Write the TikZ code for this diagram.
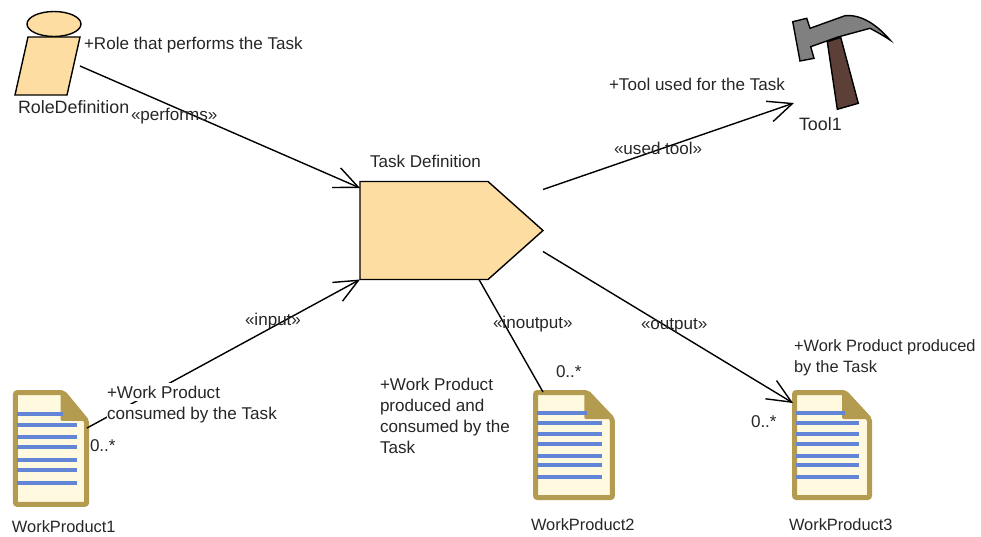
\documentclass[tikz,border=0pt]{standalone}
\usepackage{fontspec}
\setmainfont{Liberation Sans}
\usetikzlibrary{positioning,shapes.symbols,arrows.meta,calc}

\definecolor{taskfill}{HTML}{FEDDA2}
\definecolor{docgold}{HTML}{B39B50}
\definecolor{docpaper}{HTML}{FFF9E0}
\definecolor{docblue}{HTML}{6285D8}
\definecolor{hammerhead}{HTML}{808080}
\definecolor{hammerhandle}{HTML}{5C4038}

\tikzset{
    txt/.style={inner sep=0pt, outer sep=0pt, anchor=west, align=left, font=\fontsize{12.8}{15.8}\selectfont, text=black!85},
    nametxt/.style={txt, font=\fontsize{12.3}{15.8}\selectfont},
    widetxt/.style={txt, font=\fontsize{13.4}{15.8}\selectfont},
    cover/.style={txt, fill=white, text height=12pt, text depth=1.5pt},
    box/.style={inner sep=0pt, outer sep=0pt},
    assoc/.style={line width=1.05pt, -{Straight Barb[length=18pt,width=16pt,line width=1.05pt]}},
    plain/.style={line width=1.05pt},
    docpic/.pic={
        \draw[docgold, fill=docpaper, line width=3.75pt, rounded corners=1.5pt] (2.5,2.5) -- (53,2.5) -- (77.5,29) -- (77.5,107.5) -- (2.5,107.5) -- cycle;
        \fill[docgold, rounded corners=1pt] (50,3) -- (53,3) -- (78,29) -- (50,29) -- cycle;
        \draw[docblue, line width=3pt] (4,23) -- (53,23);
        \foreach \y in {33,44,54,66,75,87} {
            \draw[docblue, line width=3pt] (4,\y) -- (67,\y);
        }
    }
}

% name, left, top, width, height
\newcommand{\workproduct}[5]{%
    \node[box, minimum width=#4*0.75pt, minimum height=#5*0.75pt, anchor=north west] (#1) at (#2,#3) {};
    \pic[xscale=#4/80, yscale=#5/110] at (#2,#3) {docpic};
}

\begin{document}
\begin{tikzpicture}[x=0.75pt, y=-0.75pt]
        \useasboundingbox (0,0) rectangle (981,536);

        %-----Entities-----

        % Role Entity
        \node[box, minimum width=48.75pt, minimum height=43.5pt] (role) at (47.5,66) {};
        \draw[plain, fill=taskfill] (54,24) ellipse (27 and 12.5);
        \draw[plain, fill=taskfill] (28,37) -- (80,37) -- (67,95) -- (15,95) -- cycle;

        % Task Entity
        \node[shape=signal, signal to=east, signal pointer angle=83.4, draw, line width=1.05pt, fill=taskfill, minimum width=137.25pt, minimum height=73.5pt, inner sep=0pt, outer sep=0pt] (task) at (424,230.5) {};

        % Tool Entity
        \node[box, minimum width=72.75pt, minimum height=70.5pt] (tool) at (841.5,63) {};
        \draw[line width=1.05pt, fill=hammerhandle] (827.3,41.7) -- (840.7,37.3) -- (858.3,103.3) -- (837.3,109.3) -- cycle;
        \draw[line width=1.05pt, fill=hammerhead] (792.7,21.7) -- (806.7,18.3) -- (810,28.3) -- (845,15.7) .. controls (862,14) and (878,26) .. (890,40) .. controls (884,36) and (877,32) .. (870,28.3) -- (838,37) -- (810.7,46.7) -- (814,58.3) -- (800,61) -- cycle;

        % Work Product Entities
        \workproduct{wpone}{13}{390}{76}{117}
        \workproduct{wptwo}{533}{390}{82}{110}
        \workproduct{wpthree}{792}{390}{80}{110}

        %-----Associations-----

        % Connect Role to Task
        \draw[assoc] (role.east) -- ($(task.north west)+(0,6.5)$);

        % Connect Task to Tool
        \draw[assoc] ($(task.east)+(0,-41)$) -- ($(tool.south west)+(1,-7)$);

        % Connect Work Product 1 to Task
        \draw[assoc] ($(wpone.north east)+(-2,38)$) -- (task.south west);

        % Connect Task to Work Product 2
        \draw[plain] ($(task.south west)+(119,0)$) -- ($(wptwo.north west)+(10,2)$);

        % Connect Task to Work Product 3
        \draw[assoc] ($(task.east)+(0,21)$) -- ($(wpthree.north west)+(1,13)$);

        %-----Labels-----

        \node[txt] (rolerole) at (84,45) {+Role that performs the Task};
        \node[widetxt] (rolename) at (18,107) {RoleDefinition};
        \node[txt] (performs) at (131,116) {«performs»};
        \node[txt] (taskname) at (370,161) {Task Definition};
        \node[txt] (toolrole) at (609,84) {+Tool used for the Task};
        \node[widetxt] (toolname) at (799,124) {Tool1};
        \node[txt] (usedtool) at (614,148) {«used tool»};
        \node[txt] (inputlab) at (245,321) {«input»};
        \node[cover] (wponerolea) at (107,391.5) {+Work Product};
        \node[cover] (wponeroleb) at (107,412.5) {consumed by the Task};
        \node[txt] (wponecard) at (90,446) {0..*};
        \node[nametxt] (wponename) at (12,527) {WorkProduct1};
        \node[txt] (inoutlab) at (493,324) {«inoutput»};
        \node[txt] (wptworole) at (380,416) {+Work Product\\produced and\\consumed by the\\Task};
        \node[txt] (wptwocard) at (556,372) {0..*};
        \node[nametxt] (wptwoname) at (531,525) {WorkProduct2};
        \node[txt] (outputlab) at (641,326) {«output»};
        \node[nametxt] (wpthreerole) at (794,357.5) {+Work Product produced\\by the Task};
        \node[txt] (wpthreecard) at (751,422) {0..*};
        \node[nametxt] (wpthreename) at (789,525) {WorkProduct3};

\end{tikzpicture}
\end{document}
